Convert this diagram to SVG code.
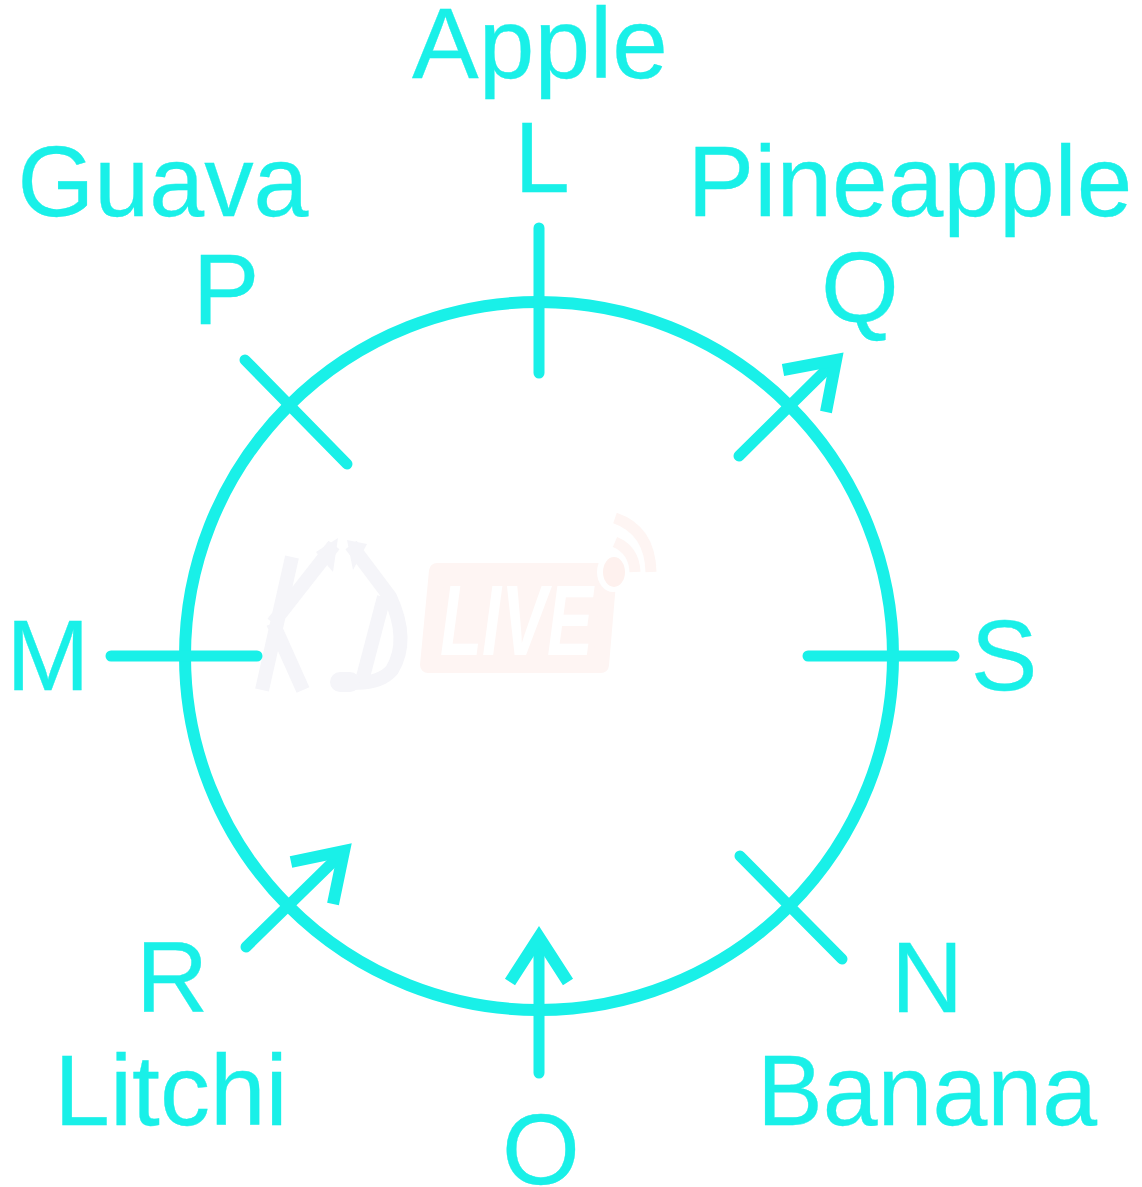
<svg xmlns="http://www.w3.org/2000/svg" width="1142" height="1187" viewBox="0 0 1142 1187">
<style>
.l{fill:none;stroke:#19f0e8;stroke-width:11;stroke-linecap:round;stroke-linejoin:miter}
.h{fill:none;stroke:#19f0e8;stroke-width:12;stroke-linecap:butt;stroke-linejoin:miter}
.t{fill:#19f0e8;stroke:#19f0e8;stroke-width:0.3;font-family:"Liberation Sans",Arial,sans-serif;font-size:100px}
.m{text-anchor:middle}
.k{fill:none;stroke:#f5f5f9;stroke-width:14;stroke-linejoin:round}
.w{fill:none;stroke:#fef5f3;stroke-width:11}
</style>
<rect width="1142" height="1187" fill="#fff"/>
<g id="watermark">
<path class="k" d="M292 557L262 690M273 623L334 545M273 623L303 690M351 545L390 597Q410 640 392 670Q378 686 345 682M384 597L363 677"/>
<path d="M340 682H350" fill="none" stroke="#f5f5f9" stroke-width="20" stroke-linecap="round"/>
<path d="M316 552L338 538L333 572ZM367 544L347 540L353 570Z" fill="#f5f5f9"/>
<path d="M437 571H609L601 665H428Z" fill="#fef5f3" stroke="#fef5f3" stroke-width="16" stroke-linejoin="round"/>
<text x="440" y="655" font-family="Liberation Sans,sans-serif" font-size="100" font-weight="700" font-style="italic" fill="#fff" textLength="153" lengthAdjust="spacingAndGlyphs">LIVE</text>
<ellipse cx="613" cy="572" rx="16" ry="20" fill="#fff"/>
<ellipse cx="614" cy="572" rx="11" ry="15" fill="#fef1ee"/>
<path class="w" d="M615 518Q650 530 651 572M615 542Q634 550 635 572"/>
</g>
<g id="connectors">
<circle class="l" cx="539" cy="656" r="354" style="stroke-width:12"/>
<path class="l" d="M539 228V373"/>
<path class="l" d="M245 360L347 464"/>
<path class="l" d="M739 456L830 366"/>
<path class="h" d="M783 370L836 360L826 412"/>
<path class="l" d="M111 656H257"/>
<path class="l" d="M808 656H954"/>
<path class="l" d="M246 947L338 857"/>
<path class="h" d="M291 862L344 851L333 904"/>
<path class="l" d="M740 856L842 959"/>
<path class="l" d="M539 1073V945"/>
<path class="h" d="M510 982L539 937L568 982"/>
</g>
<g id="node-L"><text class="t m" x="540" y="78">Apple</text><text class="t m" x="542" y="192">L</text></g>
<g id="node-P"><text class="t m" x="163" y="216" textLength="291" lengthAdjust="spacingAndGlyphs">Guava</text><text class="t m" x="226" y="324">P</text></g>
<g id="node-Q"><text class="t m" x="910" y="216">Pineapple</text><text class="t m" x="860" y="322">Q</text></g>
<g id="node-M"><text class="t m" x="48" y="690">M</text></g>
<g id="node-S"><text class="t m" x="1004" y="690">S</text></g>
<g id="node-R"><text class="t m" x="172" y="1012">R</text><text class="t m" x="171" y="1125">Litchi</text></g>
<g id="node-N"><text class="t m" x="927" y="1012">N</text><text class="t m" x="927" y="1125" textLength="340" lengthAdjust="spacingAndGlyphs">Banana</text></g>
<g id="node-O"><text class="t m" x="541" y="1184">O</text></g>
</svg>
